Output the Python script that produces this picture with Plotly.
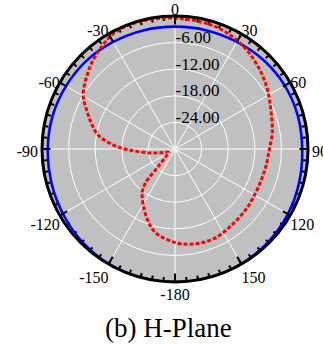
import plotly.graph_objects as go

# Measured H-plane patterns (degrees, dB)
theta_co = [0, 15, 24, 35, 46, 55, 62, 70, 80, 90, 100, 107, 118, 130, 143, 155,
            164, 172, 180, 193, 200, 207, 217, 221, 224, 231, 241, 253, 260, 268,
            273, 280, 287, 293, 300, 310, 320, 333, 346, 360]
gain_co = [-0.5, -0.8, -1.3, -2.3, -3.7, -4.9, -5.9, -6.9, -7.7, -8.7, -9.1, -9.3,
           -9.3, -9.0, -8.6, -8.0, -8.0, -8.3, -8.9, -10.6, -12.5, -14.7, -17.7,
           -19.9, -24.8, -27.5, -28.4, -27.4, -24.8, -20.3, -16.5, -12.5, -10.3,
           -8.5, -6.1, -4.1, -2.3, -0.4, -0.2, -0.5]

theta_ref = [0, 15, 30, 45, 60, 75, 90, 105, 120, 135, 150, 165, 180, 195, 210,
             225, 240, 255, 270, 285, 300, 315, 330, 345, 360]
gain_ref = [-2.4, -2.3, -2.1, -1.7, -1.4, -1.3, -1.3, -1.0, -0.6, -0.3, -0.1, 0.0,
            0.0, 0.0, -0.1, -0.4, -0.8, -1.1, -1.3, -1.4, -1.6, -1.8, -2.1, -2.3, -2.4]

angle_ticks = [0, 30, 60, 90, 120, 150, 180, 210, 240, 270, 300, 330]
# non-breaking spaces keep the side labels clear of the rim
angle_labels = ["0", "30", "60", "\u00a090", "120", "150", "-180", "-150", "-120",
                "-90\u00a0", "-60", "-30"]
minor_ticks = list(range(0, 360, 5))
radial_ticks = [-24, -18, -12, -6]
radial_labels = ["-24.00", "-18.00", "-12.00", "-6.00"]
r_range = [-30, 0]

serif = "Liberation Serif"

fig = go.Figure()
# empty traces so the background and label layers get rendered
for sp in ("polar", "polar3", "polar4"):
    fig.add_trace(go.Scatterpolar(r=[], theta=[], subplot=sp, showlegend=False,
                                  hoverinfo="skip"))
fig.add_trace(go.Scatterpolar(r=gain_ref, theta=theta_ref, mode="lines",
                              line=dict(color="#0000FF", width=2.6, shape="spline"),
                              subplot="polar2", showlegend=False))
fig.add_trace(go.Scatterpolar(r=gain_co, theta=theta_co, mode="lines",
                              line=dict(color="#FF0000", width=3, dash="4px,2px", shape="spline"),
                              subplot="polar2", showlegend=False))

dom = dict(x=[0.1300, 0.9536], y=[0.1826, 0.9536])
angle_label_dom = dict(x=[0.1316, 0.9520], y=[0.1783, 0.9464])
radial_label_dom = dict(x=dom["x"], y=[dom["y"][0] + 0.0145, dom["y"][1] + 0.0145])

hidden_r = dict(range=r_range, visible=False, showgrid=False)
hidden_a = dict(rotation=90, direction="clockwise", visible=False, showgrid=False)

fig.update_layout(
    width=323, height=345,
    margin=dict(l=0, r=0, t=0, b=0),
    paper_bgcolor="white",
    font=dict(family=serif, size=16, color="black"),
    # gray disc with the fine 5-degree ticks
    polar=dict(
        domain=dom,
        bgcolor="#C0C0C0",
        angularaxis=dict(rotation=90, direction="clockwise",
                         tickmode="array", tickvals=minor_ticks,
                         ticktext=[""] * len(minor_ticks),
                         ticks="inside", ticklen=4, tickwidth=1.5, tickcolor="black",
                         showline=False, showgrid=False),
        radialaxis=hidden_r,
    ),
    # grid, rim, major ticks and the curves
    polar2=dict(
        domain=dom,
        bgcolor="rgba(0,0,0,0)",
        angularaxis=dict(rotation=90, direction="clockwise",
                         tickmode="array", tickvals=angle_ticks,
                         ticktext=[""] * len(angle_ticks),
                         ticks="inside", ticklen=7, tickwidth=2, tickcolor="black",
                         showline=True, linecolor="black", linewidth=3,
                         gridcolor="white", gridwidth=1),
        radialaxis=dict(range=r_range, tickmode="array", tickvals=radial_ticks,
                        showticklabels=False, showline=False, ticks="",
                        gridcolor="white", gridwidth=1),
    ),
    # angle labels hugging the rim
    polar3=dict(
        domain=angle_label_dom,
        bgcolor="rgba(0,0,0,0)",
        angularaxis=dict(rotation=90, direction="clockwise",
                         tickmode="array", tickvals=angle_ticks, ticktext=angle_labels,
                         ticks="", showline=False, showgrid=False,
                         tickfont=dict(family=serif, size=16)),
        radialaxis=hidden_r,
    ),
    # dB labels sitting just above their rings
    polar4=dict(
        domain=radial_label_dom,
        bgcolor="rgba(0,0,0,0)",
        angularaxis=hidden_a,
        radialaxis=dict(range=r_range, angle=90, tickangle=90,
                        tickmode="array", tickvals=radial_ticks, ticktext=radial_labels,
                        showline=False, showgrid=False, ticks="",
                        tickfont=dict(family=serif, size=17)),
    ),
)

fig.add_annotation(text="(b) H-Plane", x=0.522, y=0.05, xref="paper", yref="paper",
                   xanchor="center", yanchor="middle", showarrow=False,
                   font=dict(family=serif, size=27, color="black"))

fig.write_html("out.html")
